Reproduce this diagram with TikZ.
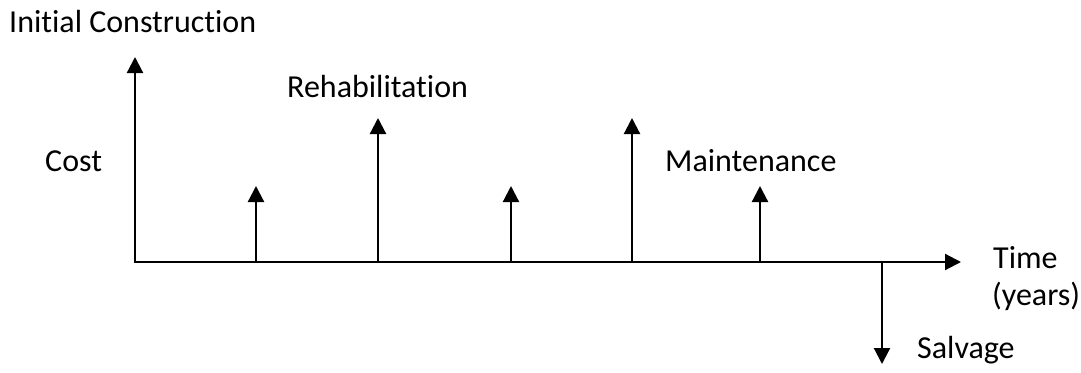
\documentclass[tikz,border=0pt]{standalone}
\usepackage{fontspec}
\setmainfont[Ligatures=NoCommon]{Carlito}
\usetikzlibrary{arrows.meta}
\begin{document}
\begin{tikzpicture}[x=1pt,y=-1pt,
  lbl/.style={anchor=base west,inner sep=0pt,font=\fontsize{32}{38}\selectfont},
  arr/.style={line width=2.2pt,-{Triangle[length=16pt,width=16pt]}}]
\useasboundingbox[fill=white] (0,0) rectangle (1081,372);
% axis points
\coordinate (O) at (135,262);
\coordinate (ytip) at (135,57);
\coordinate (xtip) at (961,262);
\coordinate (b1) at (256,262); \coordinate (t1) at (256,186);
\coordinate (b2) at (378,262); \coordinate (t2) at (378,118);
\coordinate (b3) at (511,262); \coordinate (t3) at (511,186);
\coordinate (b4) at (632,262); \coordinate (t4) at (632,118);
\coordinate (b5) at (760,262); \coordinate (t5) at (760,186);
\coordinate (bs) at (882,261); \coordinate (ts) at (882,364);
% arrows
\draw[arr] ([yshift=1.1pt]O) -- (ytip);
\draw[arr] ([xshift=-1.1pt]O) -- (xtip);
\draw[arr] (b1) -- (t1);
\draw[arr] (b2) -- (t2);
\draw[arr] (b3) -- (t3);
\draw[arr] (b4) -- (t4);
\draw[arr] (b5) -- (t5);
\draw[arr] (bs) -- (ts);
% labels
\node[lbl] (ic) at (9,32) {Initial Construction};
\node[lbl] (rh) at (287,97) {Rehabilitation};
\node[lbl] (cost) at (45,171) {Cost};
\node[lbl] (mt) at (665,171) {Maintenance};
\node[lbl] (time) at (993,268) {Time};
\node[lbl] (yrs) at (992,305) {(years)};
\node[lbl] (sv) at (917,358) {Salvage};
\end{tikzpicture}
\end{document}
